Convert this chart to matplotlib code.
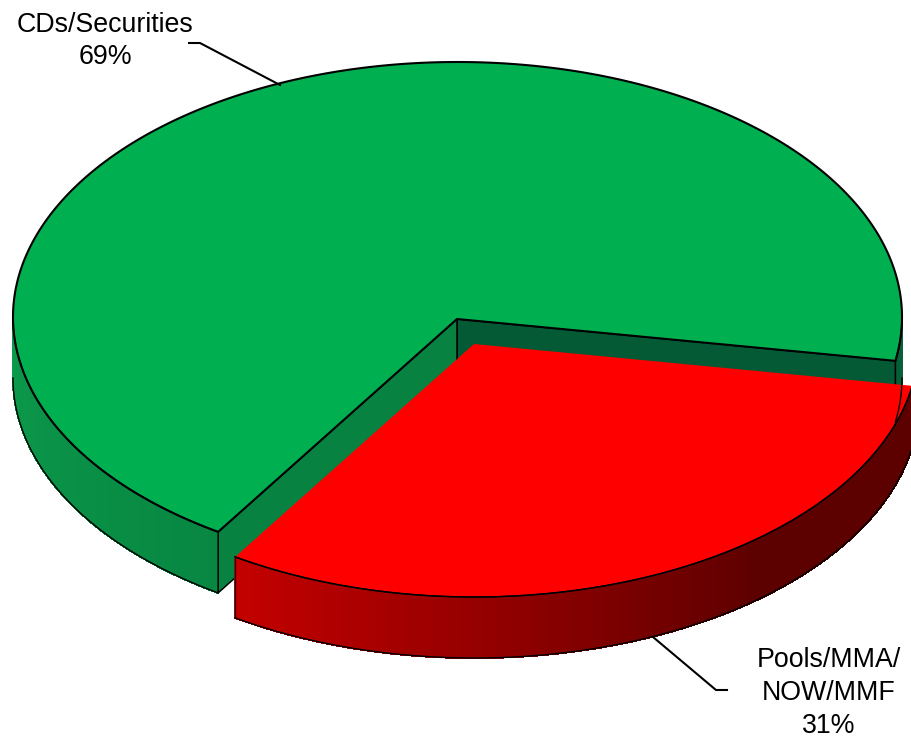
import numpy as np
import matplotlib
matplotlib.use("Agg")
import matplotlib.pyplot as plt
from matplotlib.patches import Polygon

plt.rcParams['font.family'] = ['Liberation Sans', 'DejaVu Sans']

# data
labels = ["CDs/Securities\n69%", "Pools/MMA/\nNOW/MMF\n31%"]
shares = [68.7, 31.3]

# pie geometry, in picture pixels
cx, cy = 457.5, 317
rx, ry = 444.5, 255
tip_x, tip_y = 457, 319
depth = 61
start = -9.9
off_x, off_y = 17, 25

fig = plt.figure(figsize=(9.12, 7.40), dpi=100)
ax = fig.add_axes([0, 0, 1, 1])
ax.set_xlim(0, 912)
ax.set_ylim(740, 0)
ax.axis("off")


def rim(a0, a1, dx=0, dy=0, n=200):
    t = np.radians(np.linspace(a0, a1, n))
    return np.column_stack([cx + dx + rx * np.cos(t), cy + dy - ry * np.sin(t)])


def side(a0, a1, c0, c1, dx=0, dy=0, n=120, knee=1.0):
    # outer wall of the slice, drawn as small strips for the shading
    pts = rim(a0, a1, dx, dy, n + 1)
    c0, c1 = np.array(c0) / 255, np.array(c1) / 255
    for i in range(n):
        f = min(1, i / (n - 1) / knee)
        q = [pts[i], pts[i + 1], pts[i + 1] + [0, depth], pts[i] + [0, depth]]
        col = c0 + (c1 - c0) * f
        ax.add_patch(Polygon(q, closed=True, fc=col, ec=col, lw=0.8, antialiased=False))
    ax.plot(pts[:, 0], pts[:, 1] + depth, color="black", lw=1.0)
    ax.plot(pts[:, 0], pts[:, 1], color="black", lw=1.0)


def wall(p, col):
    q = [(tip_x, tip_y), p, (p[0], p[1] + depth), (tip_x, tip_y + depth)]
    ax.add_patch(Polygon(q, closed=True, fc=col, ec="black", lw=1.1))


green_span = shares[0] / sum(shares) * 360
red_span = shares[1] / sum(shares) * 360
a_right = start
a_left = start - red_span

p_right = rim(a_right, a_right, n=1)[0]
p_left = rim(a_left, a_left, n=1)[0]

# green slice: walls first, top on it
side(0, a_right, (8, 100, 58), (6, 92, 54))
side(180, 360 + a_left, (12, 155, 76), (8, 135, 66))
wall(p_right, "#045A34")
wall(p_left, "#078241")

top = rim(a_right, a_right + green_span, n=400)
ax.add_patch(Polygon(np.vstack([top, [(tip_x, tip_y)]]), closed=True, fc="#00B050", ec="black", lw=1.5))

# red slice pulled out
side(a_left, a_right, (196, 0, 0), (92, 0, 0), off_x, off_y, knee=0.65)
for p in (p_left, p_right):
    ax.plot([p[0] + off_x, p[0] + off_x], [p[1] + off_y, p[1] + off_y + depth], color="black", lw=0.9)
top_red = rim(a_left, a_right, off_x, off_y, n=300)
ax.add_patch(Polygon(np.vstack([top_red, [(tip_x + off_x, tip_y + off_y)]]), closed=True, fc="#FF0000", ec="none"))
ax.plot(top_red[:, 0], top_red[:, 1], color="black", lw=1.0)

# leader lines and labels
ax.plot([189, 200, 280], [43, 43, 85], color="black", lw=1.5)
ax.plot([727, 716, 653], [690, 690, 637], color="black", lw=1.5)
ax.text(105, 41, labels[0], ha="center", va="center", fontsize=19.3, linespacing=1.35, color="black")
ax.text(829, 693, labels[1], ha="center", va="center", fontsize=19.3, linespacing=1.35, color="black")

fig.savefig("out.png", dpi=100)
